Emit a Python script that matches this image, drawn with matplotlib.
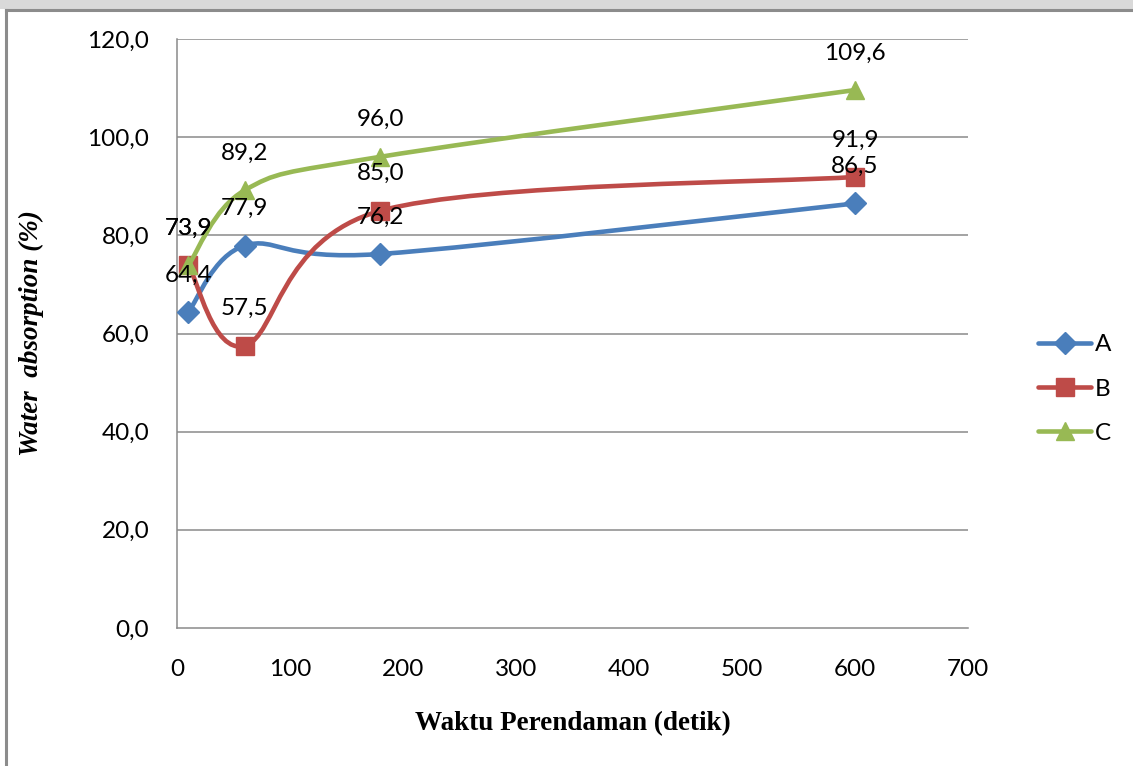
import numpy as np
import matplotlib
matplotlib.use("Agg")
import matplotlib.pyplot as plt
from matplotlib.path import Path
from matplotlib.patches import PathPatch, Rectangle
from matplotlib.lines import Line2D

# Soaking time (seconds) and water absorption (%) for each sample
waktu = [10, 60, 180, 600]
series_names = ["A", "B", "C"]
absorp_a = [64.4, 77.9, 76.2, 86.5]
absorp_b = [73.9, 57.5, 85.0, 91.9]
absorp_c = [73.9, 89.2, 96.0, 109.6]
y_ticks = [0, 20, 40, 60, 80, 100, 120]
x_ticks = [0, 100, 200, 300, 400, 500, 600, 700]

colors = ["#4A7EBB", "#BE4B48", "#98B954"]
markers = ["D", "s", "^"]
msizes = [11, 12.5, 13]

W, H = 1133, 766
fig = plt.figure(figsize=(W / 100, H / 100), dpi=100)
fig.patch.set_facecolor("white")

# grey band and frame at the top/left edge
fig.add_artist(Rectangle((0, 1 - 9 / H), 1, 9 / H, transform=fig.transFigure,
                         facecolor="#d9d9d9", edgecolor="none", zorder=0))
fig.add_artist(Line2D([6 / W, 1], [1 - 10 / H, 1 - 10 / H], transform=fig.transFigure,
                      color="#8c8c8c", lw=2.2, zorder=1))
fig.add_artist(Line2D([6 / W, 6 / W], [0, 1 - 10 / H], transform=fig.transFigure,
                      color="#8c8c8c", lw=2.2, zorder=1))

ax = fig.add_axes([177 / W, 1 - 628 / H, (968 - 177) / W, (628 - 39) / H])
ax.set_xlim(0, 700)
ax.set_ylim(0, 120)
ax.set_xticks(x_ticks)
ax.set_yticks(y_ticks)

tick_font = "Lato"
fs = 17.5
ax.set_xticklabels([str(v) for v in x_ticks], fontfamily=tick_font, fontsize=fs)
ax.set_yticklabels([f"{v:.1f}".replace(".", ",") for v in y_ticks],
                   fontfamily=tick_font, fontsize=fs)
ax.tick_params(axis="both", length=0)
ax.tick_params(axis="x", pad=22)
ax.tick_params(axis="y", pad=20)

for y in y_ticks[1:]:
    ax.axhline(y, color="#8a8a8a", lw=1.1, zorder=1)
for s in ["top", "right"]:
    ax.spines[s].set_visible(False)
for s in ["left", "bottom"]:
    ax.spines[s].set_color("#8a8a8a")
    ax.spines[s].set_linewidth(1.1)

ax.set_xlabel("Waktu Perendaman (detik)", fontfamily="Liberation Serif",
              fontweight="bold", fontsize=19.5, labelpad=23)
ax.set_ylabel("Water  absorption (%)", fontfamily="Liberation Serif",
              fontweight="bold", fontstyle="italic", fontsize=19.5, labelpad=31)


def smooth_path(xs, ys):
    """Cubic Bezier path through the points (Catmull-Rom style control points)."""
    pts = np.column_stack([xs, ys]).astype(float)
    n = len(pts)
    verts = [pts[0]]
    codes = [Path.MOVETO]
    for i in range(n - 1):
        p0 = pts[i - 1] if i > 0 else pts[i]
        p1 = pts[i]
        p2 = pts[i + 1]
        p3 = pts[i + 2] if i + 2 < n else pts[i + 1]
        c1 = p1 + (p2 - p0) / 6.0
        c2 = p2 - (p3 - p1) / 6.0
        verts += [c1, c2, p2]
        codes += [Path.CURVE4] * 3
    return Path(verts, codes)


all_series = [absorp_a, absorp_b, absorp_c]
for k, (name, vals) in enumerate(zip(series_names, all_series)):
    patch = PathPatch(smooth_path(waktu, vals), facecolor="none",
                      edgecolor=colors[k], lw=3.3, capstyle="round",
                      joinstyle="round", zorder=3 + k)
    ax.add_patch(patch)
    ax.plot(waktu, vals, linestyle="none", marker=markers[k], ms=msizes[k],
            color=colors[k], zorder=3.5 + k)
    for xv, yv in zip(waktu, vals):
        ax.annotate(f"{yv:.1f}".replace(".", ","), (xv, yv),
                    xytext=(0, 37), textcoords="offset pixels",
                    ha="center", va="center", fontfamily=tick_font,
                    fontsize=fs, color="black", zorder=10)

# legend entries
handles = [Line2D([], [], color=colors[k], lw=3.3, marker=markers[k],
                  ms=msizes[k], solid_capstyle="round")
           for k in range(3)]
fig.legend(handles, series_names, loc="center left",
           bbox_to_anchor=(1038 / W, 1 - 389 / H), frameon=False,
           prop={"family": tick_font, "size": fs}, handlelength=2.2,
           handletextpad=0.15, labelspacing=0.95, borderaxespad=0,
           borderpad=0)

fig.savefig("out.png", dpi=100, facecolor=fig.get_facecolor())
